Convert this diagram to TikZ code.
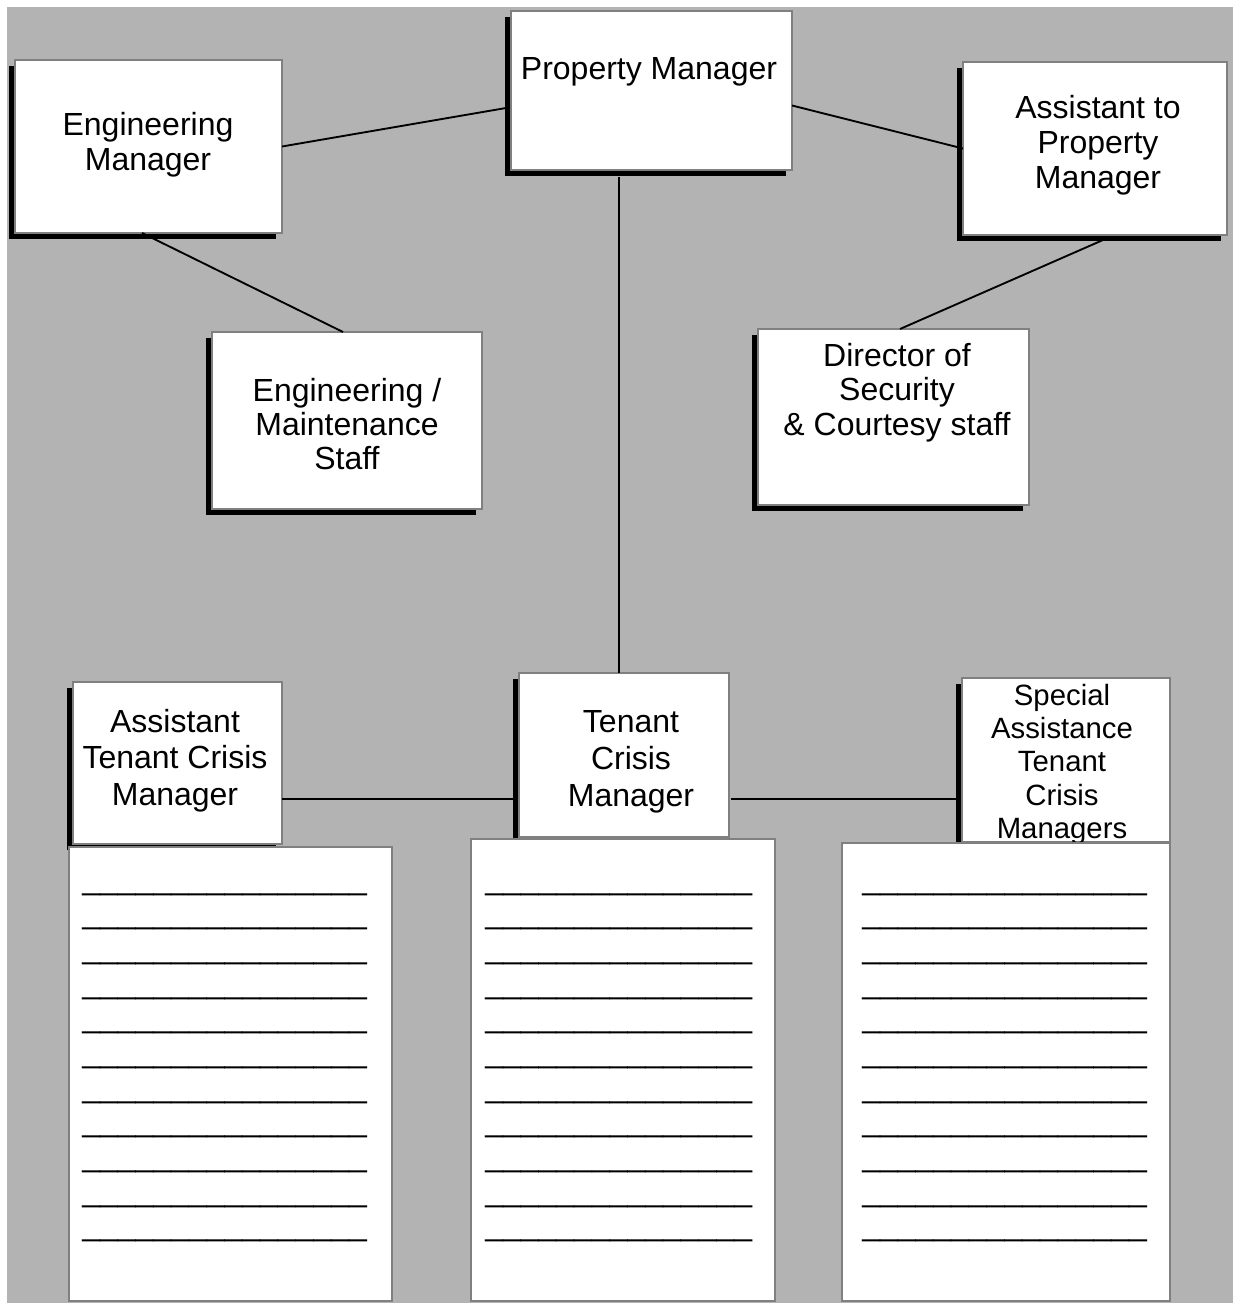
\documentclass[tikz,border=0pt]{standalone}
\usepackage{fontspec}
\setmainfont{Liberation Sans}
\usetikzlibrary{calc,shadows}
\definecolor{bggray}{RGB}{179,179,179}
\definecolor{bordergray}{RGB}{128,128,128}
\newcommand\usixteen{\textunderscore\textunderscore\textunderscore\textunderscore\textunderscore\textunderscore\textunderscore\textunderscore\textunderscore\textunderscore\textunderscore\textunderscore\textunderscore\textunderscore\textunderscore\textunderscore}
\newcommand\ufifteen{\textunderscore\textunderscore\textunderscore\textunderscore\textunderscore\textunderscore\textunderscore\textunderscore\textunderscore\textunderscore\textunderscore\textunderscore\textunderscore\textunderscore\textunderscore}
\begin{document}
\begin{tikzpicture}[x=0.75pt,y=-0.75pt,
  orgbox/.style 2 args={draw=bordergray, line width=1.5pt, fill=white,
    minimum width=#1*0.75pt, minimum height=#2*0.75pt, inner sep=0pt, outer sep=0pt},
  shadowed/.style={general shadow={fill=black, shadow xshift=-4.2pt, shadow yshift=-4.2pt}},
  lbl/.style={align=center, anchor=north, inner sep=0pt, text=black},
  listtxt/.style={align=left, anchor=north west, inner sep=0pt, text=black,
    font=\fontsize{24}{26}\selectfont},
  conn/.style={draw=black, line width=1.4pt}]
\fill[white] (0,0) rectangle (1233,1303);
\fill[bggray] (7,7) rectangle (1233,1303);
\useasboundingbox (0,0) rectangle (1233,1303);

% boxes
\node[orgbox={281}{159}, shadowed] (pm) at (651.5,90.5) {};
\node[orgbox={267}{173}, shadowed] (em) at (148.5,146.5) {};
\node[orgbox={264}{173}, shadowed] (apm) at (1095,148.5) {};
\node[orgbox={270}{177}, shadowed] (ems) at (347,420.5) {};
\node[orgbox={271}{176}, shadowed] (ds) at (893.5,417) {};
\node[orgbox={209}{162}, shadowed] (atcm) at (177.5,763) {};
\node[orgbox={210}{164}, shadowed] (tcm) at (624,755) {};
\node[orgbox={208}{164}, shadowed] (satcm) at (1066,760) {};

% connectors
\draw[conn] (em.east) -- ($(pm.west)+(-5,17.5)$);
\draw[conn] ($(pm.east)+(0,15)$) -- (apm.west);
\draw[conn] ($(em.south)+(-6.5,0)$) -- ($(ems.north)+(-4,0)$);
\draw[conn] ($(apm.south)+(8,5)$) -- ($(ds.north)+(6.5,0)$);
\coordinate (pmb) at ($(pm.south)+(-32.5,7)$);
\draw[conn] (pmb) -- (pmb |- tcm.north);
\coordinate (al) at ($(atcm.east)+(0,36)$);
\draw[conn] (al) -- ($(tcm.west |- al)+(-5,0)$);
\coordinate (ar) at ($(tcm.east)+(2,44)$);
\draw[conn] (ar) -- ($(satcm.west |- ar)+(-5,0)$);

% labels
\node[lbl, font=\fontsize{24}{26.25}\selectfont] (pm-t) at (649,54.5) {\strut Property Manager};
\node[lbl, font=\fontsize{24}{26.25}\selectfont] (em-t) at (148,110.5) {\strut Engineering\\Manager};
\node[lbl, font=\fontsize{24}{26.25}\selectfont] (apm-t) at (1098,93.5) {\strut Assistant to\\Property\\Manager};
\node[lbl, font=\fontsize{24}{25.5}\selectfont] (ems-t) at (347,377.2) {\strut Engineering /\\Maintenance\\Staff};
\node[lbl, font=\fontsize{24}{25.9}\selectfont] (ds-t) at (897,341.9) {\strut Director of\\Security\\\& Courtesy staff};
\node[lbl, font=\fontsize{24}{27.5}\selectfont] (atcm-t) at (175,706.3) {\strut Assistant\\Tenant Crisis\\Manager};
\node[lbl, font=\fontsize{24}{27.75}\selectfont] (tcm-t) at (631,706.1) {\strut Tenant\\Crisis\\Manager};
\node[lbl, font=\fontsize{22}{25}\selectfont] (satcm-t) at (1062,681.7) {\strut Special\\Assistance\\Tenant\\Crisis\\Managers};

% list boxes (drawn over the overflowing text above)
\node[orgbox={323}{454}] (l1) at (230.5,1074) {};
\node[orgbox={304}{462}] (l2) at (623,1070) {};
\node[orgbox={328}{458}] (l3) at (1006,1072) {};

\node[listtxt] (l1-t) at (82,864.7) {\strut\usixteen\\\usixteen\\\usixteen\\\usixteen\\\usixteen\\\usixteen\\\usixteen\\\usixteen\\\usixteen\\\usixteen\\\usixteen};
\node[listtxt] (l2-t) at (485,864.7) {\strut\ufifteen\\\ufifteen\\\ufifteen\\\ufifteen\\\ufifteen\\\ufifteen\\\ufifteen\\\ufifteen\\\ufifteen\\\ufifteen\\\ufifteen};
\node[listtxt] (l3-t) at (862,864.7) {\strut\usixteen\\\usixteen\\\usixteen\\\usixteen\\\usixteen\\\usixteen\\\usixteen\\\usixteen\\\usixteen\\\usixteen\\\usixteen};
\end{tikzpicture}
\end{document}
